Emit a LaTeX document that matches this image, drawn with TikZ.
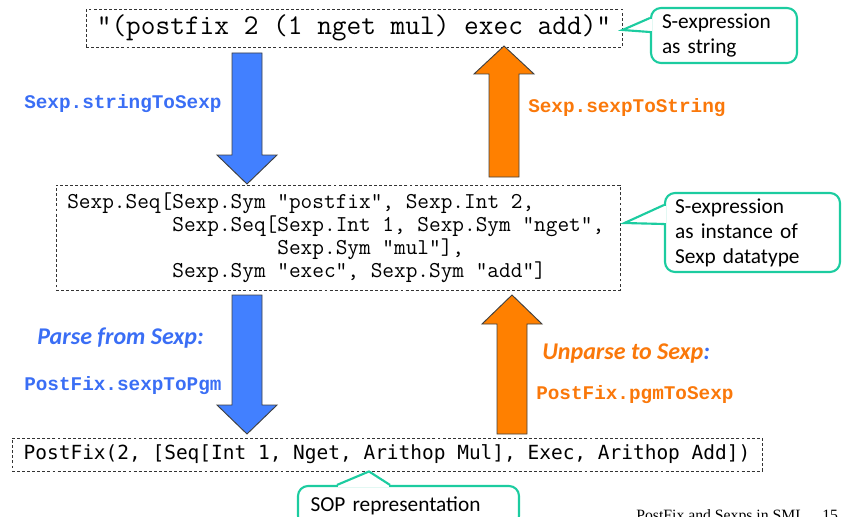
\documentclass[tikz,border=0pt]{standalone}
\usepackage{fontspec}
\usetikzlibrary{calc}
\newfontfamily\courfont{Liberation Mono}
\newfontfamily\dvmfont{DejaVu Sans Mono}
\newfontfamily\calfont{Carlito}
\newfontfamily\tmsfont{Liberation Serif}
\definecolor{arrblue}{RGB}{66,128,255}
\definecolor{lblblue}{RGB}{58,110,245}
\definecolor{arrorange}{RGB}{255,128,0}
\definecolor{lblorange}{RGB}{250,120,10}
\definecolor{calloutteal}{RGB}{28,204,160}
\begin{document}
\begin{tikzpicture}[x=0.75pt,y=-0.75pt,
  codebox/.style={draw=black!80, dash pattern=on 2.2pt off 1.6pt, line width=0.7pt, inner sep=0pt},
  callbox/.style={draw=calloutteal, line width=1.6pt, rounded corners=7.5pt, fill=white, align=left,
    font={\calfont\fontsize{16}{18.75}\selectfont}},
  callline/.style={draw=calloutteal, line width=1.6pt, line join=miter},
  blockarrow/.style={draw=black!75, line width=0.7pt, line join=miter},
  lblmono/.style={font={\courfont\bfseries\fontsize{14.5}{16}\selectfont}, inner sep=0pt, anchor=west},
  lblcal/.style={font={\calfont\bfseries\itshape\fontsize{18}{20}\selectfont}, inner sep=0pt, anchor=west},
  footer/.style={font={\tmsfont\fontsize{11.8}{13}\selectfont}, inner sep=0pt, anchor=base west}
]
\useasboundingbox (0,0) rectangle (842,517);
\clip (0,0) rectangle (842,517);

% code boxes
\node[codebox, minimum width=402pt, minimum height=28.5pt,
  font={\ttfamily\fontsize{21.4}{23}\selectfont}] (str) at (354,28) {"(postfix 2 (1 nget mul) exec add)"};
\node[codebox, minimum width=423pt, minimum height=78.75pt] (sexp) at (338,237.5) {};
\node[inner sep=0pt, anchor=west, align=left, font={\ttfamily\fontsize{17}{17.25}\selectfont}] (sexptext) at (67,237.5)
  {Sexp.Seq[Sexp.Sym "postfix", Sexp.Int 2,\\
   \phantom{xxxxxxxxx}Sexp.Seq[Sexp.Int 1, Sexp.Sym "nget",\\
   \phantom{xxxxxxxxxxxxxxxxxx}Sexp.Sym "mul"],\\
   \phantom{xxxxxxxxx}Sexp.Sym "exec", Sexp.Sym "add"]};
\node[codebox, minimum width=562.5pt, minimum height=24.75pt,
  font={\dvmfont\fontsize{14.6}{17}\selectfont}] (sop) at (387,454.5) {PostFix(2, [Seq[Int 1, Nget, Arithop Mul], Exec, Arithop Add])};

% block arrows
\draw[blockarrow, fill=arrblue] (232,53) -- (262,53) -- (262,155) -- (277,155) -- (247,184) -- (217,155) -- (232,155) -- cycle;
\draw[blockarrow, fill=arrorange] (489,177) -- (519,177) -- (519,74) -- (534,74) -- (504,46) -- (474,74) -- (489,74) -- cycle;
\draw[blockarrow, fill=arrblue] (232,295) -- (262,295) -- (262,405) -- (277,405) -- (247,434) -- (217,405) -- (232,405) -- cycle;
\draw[blockarrow, fill=arrorange] (497,434) -- (527,434) -- (527,324) -- (542,324) -- (512,295) -- (482,324) -- (497,324) -- cycle;

% labels
\node[lblmono, text=lblblue] (l1) at (24,104) {Sexp.stringToSexp};
\node[lblmono, text=lblorange] (l2) at (528,108) {Sexp.sexpToString};
\node[lblcal, text=lblblue] (l3) at (37,338) {Parse from Sexp:};
\node[lblmono, text=lblblue] (l4) at (24,386) {PostFix.sexpToPgm};
\node[lblcal, text=lblorange] (l5) at (542,354) {Unparse to Sexp\textcolor{lblblue}{:}};
\node[lblmono, text=lblorange] (l6) at (536,395) {PostFix.pgmToSexp};

% callouts
\node[callbox, minimum width=109.5pt, minimum height=41.25pt, inner xsep=8.25pt, text width=93pt] (c1) at (724,35.5)
  {S-expression\\as string};
\fill[white] ($(c1.west)+(-1.6,-16.5)$) rectangle ($(c1.west)+(1.6,-4.5)$);
\draw[callline] ($(c1.west)+(0,-17.5)$) -- ($(str.east)+(0,2)$) -- ($(c1.west)+(0,-3.5)$);

\node[callbox, minimum width=131.25pt, minimum height=59.25pt, inner xsep=7.5pt, text width=116pt] (c2) at (752.5,232.5)
  {S-expression\\as instance of\\Sexp datatype};
\fill[white] ($(c2.west)+(-1.6,-26.5)$) rectangle ($(c2.west)+(1.6,-9.5)$);
\draw[callline] ($(c2.west)+(0,-27.5)$) -- ($(sexp.east)+(4,-14.5)$) -- ($(c2.west)+(0,-8.5)$);

\node[callbox, minimum width=165.75pt, minimum height=30pt, inner xsep=9pt, text width=147pt] (c3) at (408.5,506)
  {SOP representation};
\fill[white] ($(c3.north)+(-70.5,-1.6)$) rectangle ($(c3.north)+(-19.5,1.6)$);
\draw[callline] ($(c3.north)+(-71.5,0)$) -- ($(sop.south)+(-18,0)$) -- ($(c3.north)+(-18.5,0)$);

% footer (cut off by the page edge, as in the original)
\node[footer] (foot) at (636,520) {PostFix and Sexps in SML};
\node[footer] (pagenum) at (822,520) {15};
\end{tikzpicture}
\end{document}
